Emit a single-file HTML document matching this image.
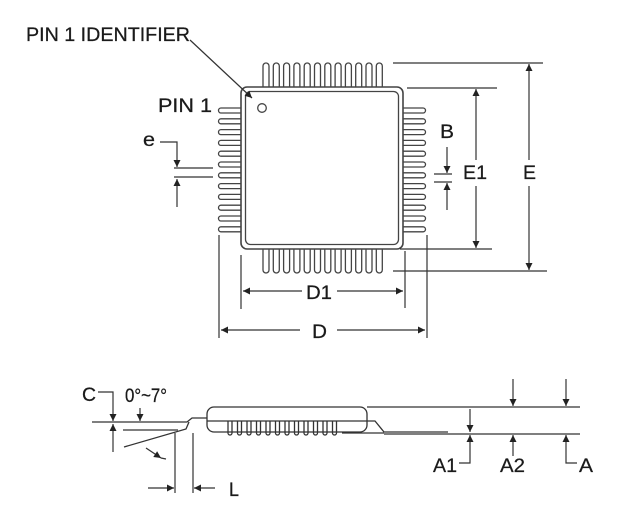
<!DOCTYPE html>
<html><head><style>
html,body{margin:0;padding:0;background:#fff;}
svg{display:block;}
text{font-family:"Liberation Sans",Arial,sans-serif;fill:#1a1a1a;stroke:#1a1a1a;stroke-width:0.25;}
</style></head><body>
<svg width="642" height="527" viewBox="0 0 642 527" xmlns="http://www.w3.org/2000/svg">
<defs>
<marker id="ah" viewBox="0 0 10 10" refX="10" refY="5" markerWidth="7" markerHeight="9" orient="auto" markerUnits="userSpaceOnUse"><path d="M0,0 L10,5 L0,10 Z" fill="#222"/></marker>
</defs>
<g stroke="#444" stroke-width="1.3" fill="none">
<g>
<path d="M263,87 V66 a3,3 0 0 1 6,0 V87"/><path d="M273.3,87 V66 a3,3 0 0 1 6,0 V87"/><path d="M283.6,87 V66 a3,3 0 0 1 6,0 V87"/><path d="M293.9,87 V66 a3,3 0 0 1 6,0 V87"/><path d="M304.2,87 V66 a3,3 0 0 1 6,0 V87"/><path d="M314.5,87 V66 a3,3 0 0 1 6,0 V87"/><path d="M324.8,87 V66 a3,3 0 0 1 6,0 V87"/><path d="M335.1,87 V66 a3,3 0 0 1 6,0 V87"/><path d="M345.4,87 V66 a3,3 0 0 1 6,0 V87"/><path d="M355.7,87 V66 a3,3 0 0 1 6,0 V87"/><path d="M366,87 V66 a3,3 0 0 1 6,0 V87"/><path d="M376.3,87 V66 a3,3 0 0 1 6,0 V87"/>
</g>
<g transform="translate(0,336) scale(1,-1)">
<path d="M263,87 V66 a3,3 0 0 1 6,0 V87"/><path d="M273.3,87 V66 a3,3 0 0 1 6,0 V87"/><path d="M283.6,87 V66 a3,3 0 0 1 6,0 V87"/><path d="M293.9,87 V66 a3,3 0 0 1 6,0 V87"/><path d="M304.2,87 V66 a3,3 0 0 1 6,0 V87"/><path d="M314.5,87 V66 a3,3 0 0 1 6,0 V87"/><path d="M324.8,87 V66 a3,3 0 0 1 6,0 V87"/><path d="M335.1,87 V66 a3,3 0 0 1 6,0 V87"/><path d="M345.4,87 V66 a3,3 0 0 1 6,0 V87"/><path d="M355.7,87 V66 a3,3 0 0 1 6,0 V87"/><path d="M366,87 V66 a3,3 0 0 1 6,0 V87"/><path d="M376.3,87 V66 a3,3 0 0 1 6,0 V87"/>
</g>
<path d="M241,108 H221 a2.5,2.5 0 0 0 0,5 H241 M241,118.8 H221 a2.5,2.5 0 0 0 0,5 H241 M241,129.6 H221 a2.5,2.5 0 0 0 0,5 H241 M241,140.4 H221 a2.5,2.5 0 0 0 0,5 H241 M241,151.2 H221 a2.5,2.5 0 0 0 0,5 H241 M241,162 H221 a2.5,2.5 0 0 0 0,5 H241 M241,172.8 H221 a2.5,2.5 0 0 0 0,5 H241 M241,183.6 H221 a2.5,2.5 0 0 0 0,5 H241 M241,194.4 H221 a2.5,2.5 0 0 0 0,5 H241 M241,205.2 H221 a2.5,2.5 0 0 0 0,5 H241 M241,216 H221 a2.5,2.5 0 0 0 0,5 H241 M241,226.8 H221 a2.5,2.5 0 0 0 0,5 H241"/>
<g transform="translate(644,0) scale(-1,1)">
<path d="M241,108 H221 a2.5,2.5 0 0 0 0,5 H241 M241,118.8 H221 a2.5,2.5 0 0 0 0,5 H241 M241,129.6 H221 a2.5,2.5 0 0 0 0,5 H241 M241,140.4 H221 a2.5,2.5 0 0 0 0,5 H241 M241,151.2 H221 a2.5,2.5 0 0 0 0,5 H241 M241,162 H221 a2.5,2.5 0 0 0 0,5 H241 M241,172.8 H221 a2.5,2.5 0 0 0 0,5 H241 M241,183.6 H221 a2.5,2.5 0 0 0 0,5 H241 M241,194.4 H221 a2.5,2.5 0 0 0 0,5 H241 M241,205.2 H221 a2.5,2.5 0 0 0 0,5 H241 M241,216 H221 a2.5,2.5 0 0 0 0,5 H241 M241,226.8 H221 a2.5,2.5 0 0 0 0,5 H241"/>
</g>
<rect x="241" y="87" width="162" height="162" rx="6" fill="#fff" stroke-width="1.6"/>
<rect x="245.5" y="91.5" width="153" height="153" rx="5" stroke-width="1.3"/>
<circle cx="262" cy="108" r="4.3"/>
</g>
<g stroke="#333" stroke-width="1.2" fill="none">
<path d="M190,40 L252,98" marker-end="url(#ah)"/>
<path d="M393,63 H543 M393,271 H547"/>
<path d="M529,160 V64" marker-end="url(#ah)"/><path d="M529,186 V270" marker-end="url(#ah)"/>
<path d="M407,88 H497 M400,249 H492"/>
<path d="M476,160 V89" marker-end="url(#ah)"/><path d="M476,186 V248" marker-end="url(#ah)"/>
<path d="M447,147 V173" marker-end="url(#ah)"/><path d="M447,210 V183" marker-end="url(#ah)"/>
<path d="M434,174 H452 M434,182 H452"/>
<path d="M405,251 V308 M427,235 V338"/>
<path d="M241,255 V309"/>
<path d="M302,291 H243" marker-end="url(#ah)"/><path d="M337,291 H403" marker-end="url(#ah)"/>
<path d="M219,235 V338"/>
<path d="M300,330 H221" marker-end="url(#ah)"/><path d="M337,330 H425" marker-end="url(#ah)"/>
<path d="M160,142 H177 V146"/>
<path d="M177,146 V167" marker-end="url(#ah)"/><path d="M177,207 V179" marker-end="url(#ah)"/>
<path d="M174,168 H213 M174,177 H213"/>
</g>
<g stroke="#333" stroke-width="1.3" fill="none">
<path d="M92,422 H187 L192,418 H208"/>
<path d="M123,430 H178"/>
<path d="M124,447 L186,429 L189,422"/>
<rect x="207" y="407" width="160" height="25" rx="7" fill="#fff"/>
<path d="M207,421 H366 L375,421 L384,432 H448"/>
<path d="M228,421 V433 a2,2 0 0 0 4,0 V421 M237.5,421 V433 a2,2 0 0 0 4,0 V421 M247,421 V433 a2,2 0 0 0 4,0 V421 M256.5,421 V433 a2,2 0 0 0 4,0 V421 M266,421 V433 a2,2 0 0 0 4,0 V421 M275.5,421 V433 a2,2 0 0 0 4,0 V421 M285,421 V433 a2,2 0 0 0 4,0 V421 M294.5,421 V433 a2,2 0 0 0 4,0 V421 M304,421 V433 a2,2 0 0 0 4,0 V421 M313.5,421 V433 a2,2 0 0 0 4,0 V421 M323,421 V433 a2,2 0 0 0 4,0 V421 M332.5,421 V433 a2,2 0 0 0 4,0 V421"/>
<path d="M342,433 H384"/>
<path d="M367,407 H580 M384,434 H580"/>
</g>
<g stroke="#333" stroke-width="1.2" fill="none">
<path d="M98,392 H113 V397"/>
<path d="M113,397 V421" marker-end="url(#ah)"/><path d="M113,452 V424" marker-end="url(#ah)"/>
<path d="M140,408 V421" marker-end="url(#ah)"/>
<path d="M146,448 L161,458" marker-end="url(#ah)"/><path d="M161,458 L166,459"/>
<path d="M175,433 V493 M193,433 V493"/>
<path d="M148,488 H174" marker-end="url(#ah)"/><path d="M215,488 H194" marker-end="url(#ah)"/>
<path d="M470,409 V432" marker-end="url(#ah)"/><path d="M470,457 V435" marker-end="url(#ah)"/>
<path d="M459,463 H470 V457"/>
<path d="M513,379 V406" marker-end="url(#ah)"/><path d="M513,456 V435" marker-end="url(#ah)"/>
<path d="M566,379 V406" marker-end="url(#ah)"/><path d="M566,456 V435" marker-end="url(#ah)"/>
<path d="M566,456 V463 H577"/>
</g>
<g font-size="19">
<text x="26" y="41" textLength="164" lengthAdjust="spacingAndGlyphs">PIN 1 IDENTIFIER</text>
<text x="158" y="112" textLength="54" lengthAdjust="spacingAndGlyphs">PIN 1</text>
<text x="143" y="146" textLength="12" lengthAdjust="spacingAndGlyphs">e</text>
<text x="440" y="138" textLength="14" lengthAdjust="spacingAndGlyphs">B</text>
<text x="463" y="179" textLength="24" lengthAdjust="spacingAndGlyphs">E1</text>
<text x="523" y="179" textLength="13" lengthAdjust="spacingAndGlyphs">E</text>
<text x="306" y="299" textLength="26" lengthAdjust="spacingAndGlyphs">D1</text>
<text x="312" y="338" textLength="15" lengthAdjust="spacingAndGlyphs">D</text>
<text x="82" y="401" textLength="14" lengthAdjust="spacingAndGlyphs">C</text>
<text x="125" y="402" textLength="42" lengthAdjust="spacingAndGlyphs">0°~7°</text>
<text x="229" y="496" textLength="10" lengthAdjust="spacingAndGlyphs">L</text>
<text x="433" y="472" textLength="24" lengthAdjust="spacingAndGlyphs">A1</text>
<text x="500" y="472" textLength="25" lengthAdjust="spacingAndGlyphs">A2</text>
<text x="579" y="472" textLength="14" lengthAdjust="spacingAndGlyphs">A</text>
</g>
</svg>
</body></html>
